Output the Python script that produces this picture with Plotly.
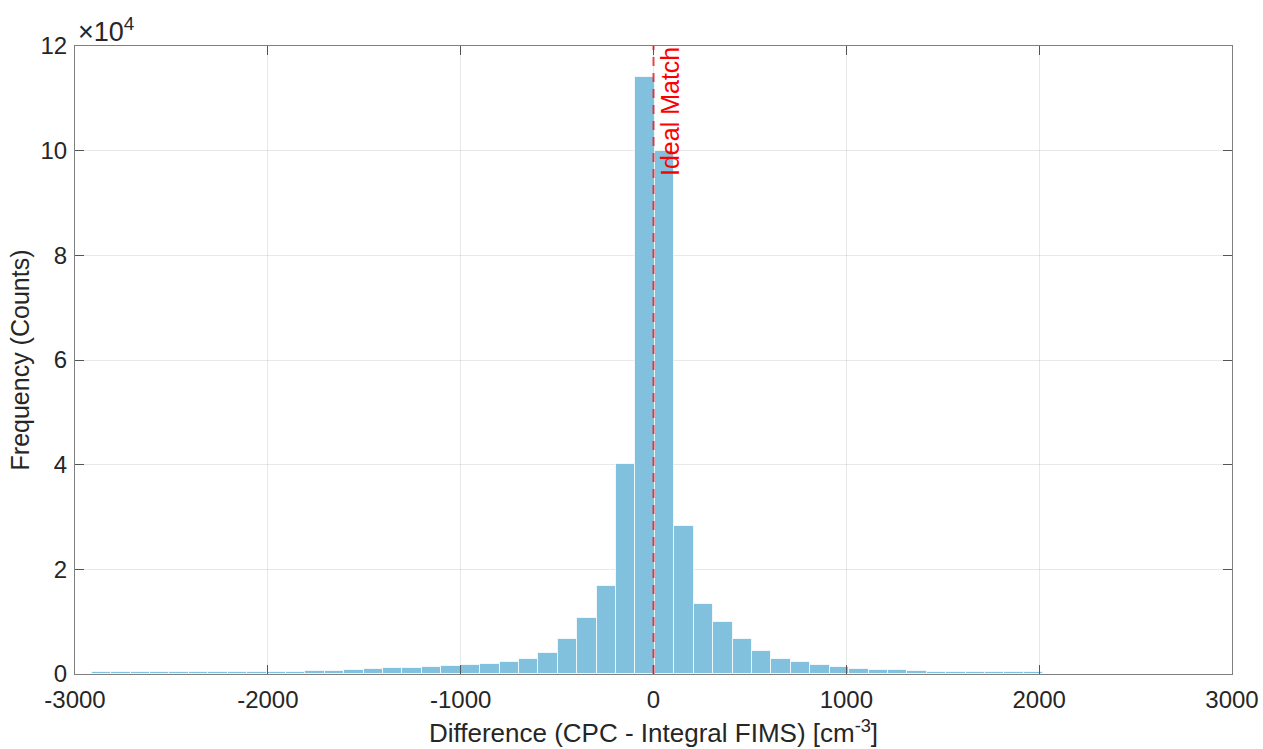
import plotly.graph_objects as go

# Histogram data: counts per bin (bin edges start at first_edge, equal width)
first_edge = -2913.0
bin_width = 100.7
counts = [290, 290, 300, 310, 320, 330, 340, 360, 390, 420,
          460, 510, 660, 820, 980, 1230, 1240, 1420, 1470, 1720,
          1940, 2290, 2890, 4050, 6600, 10700, 16900, 40200, 114000, 99900,
          28300, 13350, 9900, 6700, 4400, 2870, 2290, 1780, 1390, 1010,
          820, 690, 570, 440, 360, 330, 310, 300, 290]
centers = [first_edge + bin_width * (i + 0.5) for i in range(len(counts))]

x_ticks = [-3000, -2000, -1000, 0, 1000, 2000, 3000]
x_tick_text = ["-3000", "-2000", "-1000", "0", "1000", "2000", "3000"]
y_ticks = [0, 20000, 40000, 60000, 80000, 100000, 120000]
y_tick_text = ["0", "2", "4", "6", "8", "10", "12"]
ideal_x = 0

FONT = "Liberation Sans, Arial, sans-serif"
TXT = "#262626"

fig = go.Figure()
fig.add_trace(go.Bar(
    x=centers, y=counts, width=bin_width,
    marker=dict(color="rgb(130,193,222)",
                line=dict(color="rgba(255,255,255,0.75)", width=1)),
    showlegend=False,
))
fig.add_trace(go.Scatter(
    x=[ideal_x, ideal_x], y=[0, 120000], mode="lines",
    line=dict(color="rgba(230,35,45,0.85)", width=2, dash="9px,7px"),
    showlegend=False,
))

fig.add_annotation(
    x=ideal_x, y=120000, xref="x", yref="y",
    text="Ideal Match", textangle=-90, showarrow=False,
    xanchor="left", yanchor="top", xshift=0, yshift=1,
    font=dict(family=FONT, size=25, color="red"),
)
fig.add_annotation(
    x=0, y=1, xref="paper", yref="paper",
    text="×10<sup>4</sup>", showarrow=False,
    xanchor="left", yanchor="bottom", xshift=1, yshift=-3,
    font=dict(family=FONT, size=27, color=TXT),
)

axis_common = dict(
    showline=True, linecolor="#7f7f7f", linewidth=1, mirror="ticks",
    ticks="inside", ticklen=9, tickcolor="#555555",
    showgrid=True, gridcolor="rgba(0,0,0,0.09)", gridwidth=1,
    zeroline=False, automargin=False,
    tickfont=dict(family=FONT, size=24, color=TXT),
)

fig.update_layout(
    width=1263, height=749,
    margin=dict(l=75, r=31, t=46, b=75),
    plot_bgcolor="white", paper_bgcolor="white",
    bargap=0,
    xaxis=dict(range=[-3000, 3000], tickvals=x_ticks, ticktext=x_tick_text,
               ticklabelstandoff=4,
               title=dict(text="Difference (CPC - Integral FIMS) [cm<sup>-3</sup>]",
                          font=dict(family=FONT, size=26, color=TXT), standoff=12),
               **axis_common),
    yaxis=dict(range=[0, 120000], tickvals=y_ticks, ticktext=y_tick_text,
               ticklabelstandoff=2,
               title=dict(text="Frequency (Counts)",
                          font=dict(family=FONT, size=25, color=TXT), standoff=3),
               **axis_common),
)

fig.write_html(
    "out.html",
    config={"displayModeBar": False},
    post_script="document.body.style.margin='0';document.body.style.overflow='hidden';",
)
